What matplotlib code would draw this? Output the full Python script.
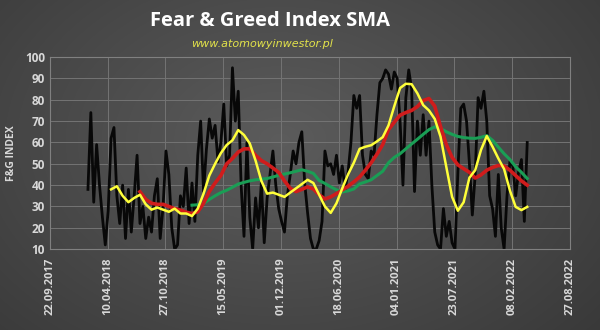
import numpy as np
import pandas as pd
import matplotlib
matplotlib.use("Agg")
import matplotlib.pyplot as plt
import matplotlib.dates as mdates

# daily index sampled every 10 days, starting 01.02.2018
fng_start = "2018-02-01"
fng = [38, 74, 32, 59, 40, 25, 12, 28, 62, 67,
       35, 22, 40, 15, 38, 18, 35, 54, 22, 30,
       15, 25, 18, 35, 43, 15, 30, 56, 45, 20,
       10, 12, 35, 30, 48, 22, 41, 23, 54, 70,
       37, 57, 71, 62, 68, 51, 60, 78, 49, 54,
       95, 70, 84, 40, 16, 60, 25, 10, 34, 20,
       41, 13, 34, 45, 56, 40, 29, 23, 18, 35,
       45, 56, 50, 60, 65, 41, 27, 15, 10, 10,
       14, 23, 56, 49, 50, 45, 54, 41, 49, 38,
       46, 60, 82, 76, 82, 54, 45, 43, 56, 54,
       73, 88, 90, 94, 92, 85, 93, 90, 70, 40,
       81, 94, 85, 37, 70, 54, 73, 54, 70, 40,
       18, 12, 10, 29, 16, 23, 13, 10, 46, 76,
       78, 70, 50, 26, 45, 81, 76, 84, 70, 35,
       29, 16, 45, 20, 10, 35, 51, 49, 35, 46,
       52, 23, 60]

# moving averages, sampled every 20 days
sma_short_start = "2018-04-22"
sma_short = [38, 39.5, 35, 32, 34, 35.5, 31, 28.5, 29.5, 28.5,
             27.5, 29, 26.7, 26.7, 25.5, 29, 36, 44.5, 50, 55,
             58.8, 61, 65.8, 63.5, 59.5, 51.5, 42, 36, 36.5, 35.5,
             34.5, 36.5, 38.5, 40.5, 42.5, 41, 35.5, 30, 27, 31.5,
             38.5, 45, 50.5, 57, 58, 58.7, 60.5, 62.5, 68, 77,
             85.5, 87.5, 87.3, 83, 77.5, 75, 71, 62.7, 48.5, 34.5,
             28, 32, 43.5, 47, 56.5, 63, 58, 52.5, 47.5, 37.5,
             29.8, 28.3, 29.8]

sma_mid_start = "2018-07-31"
sma_mid = [36.9, 33.3, 31.5, 31, 31, 30, 29, 28.3, 27.3, 26.7,
           27.5, 31.5, 37, 41, 44.5, 50, 52.5, 55.5, 57, 57,
           54, 51.5, 50, 48, 46, 42, 38.5, 37, 38, 39.2,
           38.2, 35.5, 33.5, 34.5, 36, 37.7, 39.5, 41.5, 43.8, 47,
           50.5, 54.5, 59, 66, 69.5, 72.8, 74, 75, 76.8, 79.6,
           80.6, 77, 67.4, 59, 53, 49.5, 47.7, 46, 43.3, 44.8,
           47, 48.3, 49.2, 49, 47, 44.5, 42, 40]

sma_long_start = "2019-01-27"
sma_long = [30.6, 30.8, 31.4, 33.3, 35, 36.5, 37.6, 39, 40.5, 41.3,
            42, 42.5, 42.8, 43.1, 43.8, 44.6, 45.2, 45.8, 46.5, 47.2,
            46.5, 45.5, 42.2, 40.8, 39.2, 37.8, 36.8, 37.3, 38.2, 40.6,
            41.5, 42.5, 44.5, 46.5, 50.5, 53, 54.7, 57, 59.3, 61.5,
            63.8, 66, 67.3, 66.5, 65, 63.8, 62.8, 62.3, 62, 61.9,
            62.4, 63.2, 61, 57.8, 54.7, 52, 48.6, 46, 43.1]

tick_dates = ["22.09.2017", "10.04.2018", "27.10.2018", "15.05.2019", "01.12.2019",
              "18.06.2020", "04.01.2021", "23.07.2021", "08.02.2022", "27.08.2022"]


fig = plt.figure(figsize=(6, 3.3), dpi=100)

# grey background with dark vignette
bg = fig.add_axes([0, 0, 1, 1])
yy, xx = np.mgrid[0:330, 0:600]
r = np.sqrt(((xx - 280) / 400.0) ** 2 + ((yy - 140) / 280.0) ** 2)
shade = np.clip(0.36 - 0.13 * r, 0.15, 0.4)
bg.imshow(np.dstack([shade] * 3), aspect="auto", extent=[0, 1, 0, 1])
bg.axis("off")

ax = fig.add_axes([0.083, 0.245, 0.867, 0.582])
ax.set_facecolor((0, 0, 0, 0))

x_black = pd.date_range(fng_start, periods=len(fng), freq="10D")
x_short = pd.date_range(sma_short_start, periods=len(sma_short), freq="20D")
x_mid = pd.date_range(sma_mid_start, periods=len(sma_mid), freq="20D")
x_long = pd.date_range(sma_long_start, periods=len(sma_long), freq="20D")

ax.plot(x_black, fng, color="#080808", lw=2.0, zorder=2)
ax.plot(x_long, sma_long, color="#1a9e55", lw=2.2, zorder=3)
ax.plot(x_mid, sma_mid, color="#d01c1c", lw=2.6, zorder=4)
ax.plot(x_short, sma_short, color="#ffff3a", lw=1.8, zorder=5)

ticks = pd.to_datetime(tick_dates, format="%d.%m.%Y")
ax.set_xlim(ticks[0], ticks[-1])
ax.set_xticks(ticks)
ax.xaxis.set_major_formatter(mdates.DateFormatter("%d.%m.%Y"))
ax.set_ylim(10, 100)
ax.set_yticks(range(10, 101, 10))

ax.grid(True, color="#747474", lw=0.7)
ax.set_axisbelow(True)
for s in ax.spines.values():
    s.set_color("#808080")
    s.set_linewidth(0.8)
ax.tick_params(length=0, colors="#d8d8d8", labelsize=8)
ax.tick_params(axis="y", labelsize=8.5)
ax.tick_params(axis="x", rotation=90, pad=6)
for lab in ax.get_xticklabels() + ax.get_yticklabels():
    lab.set_fontweight("bold")
    lab.set_family("Open Sans")

ax.set_ylabel("F&G INDEX", color="#d8d8d8", fontsize=7.5, fontweight="bold",
              family="Open Sans", labelpad=6)

fig.text(0.45, 0.935, "Fear & Greed Index SMA", color="white", fontsize=14.5,
         fontweight="bold", family="Open Sans", ha="center", va="center")
fig.text(0.437, 0.866, "www.atomowyinwestor.pl", color="#e2e24a", fontsize=8,
         style="italic", family="DejaVu Sans", ha="center", va="center")

plt.savefig("out.png", dpi=100)
